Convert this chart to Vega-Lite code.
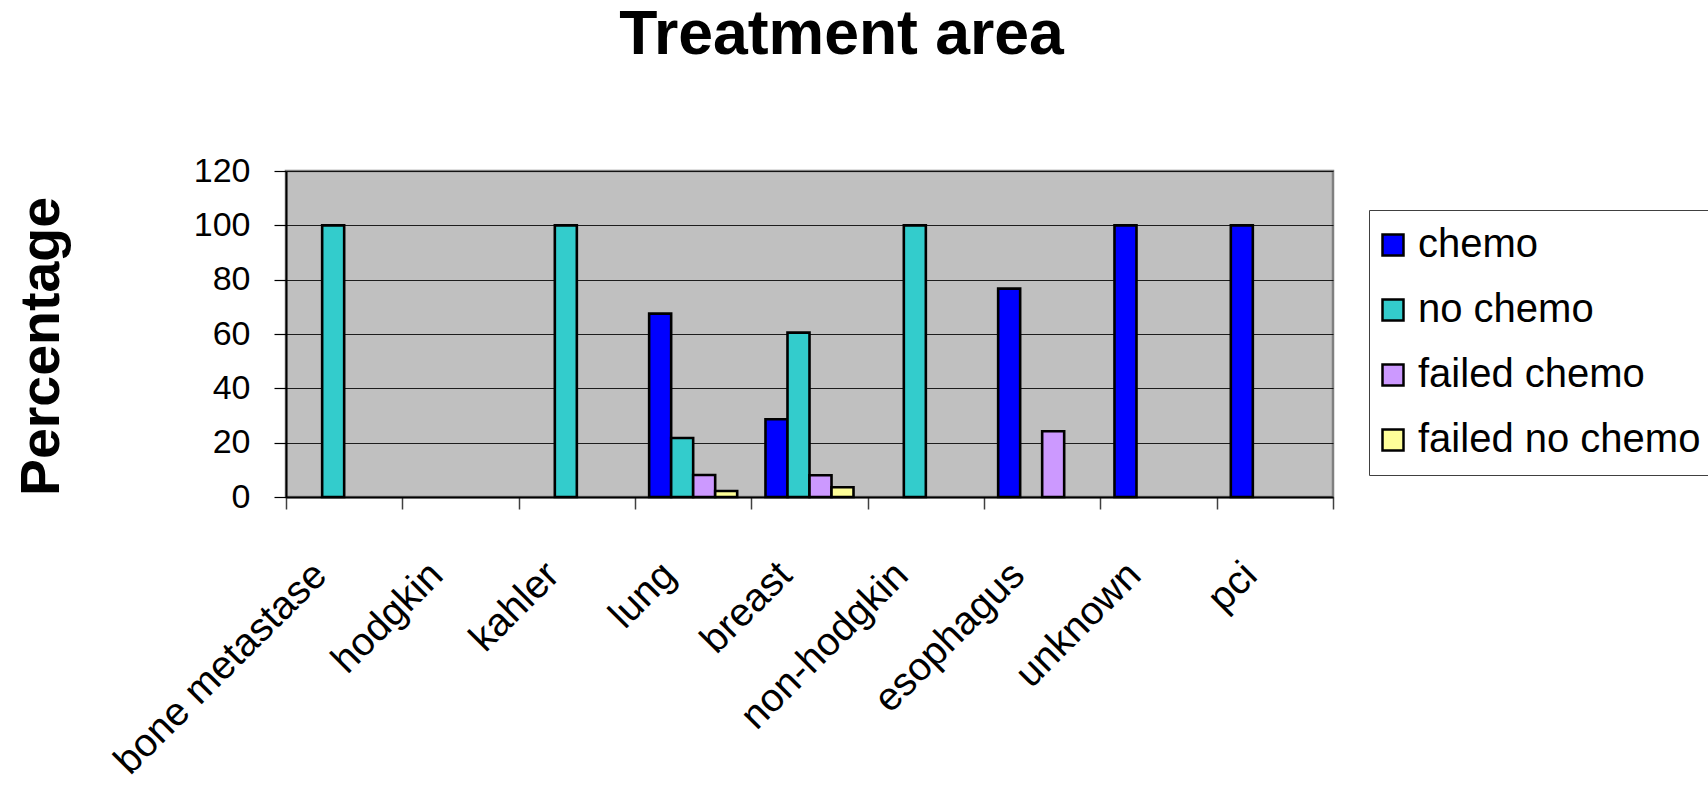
{
  "$schema": "https://vega.github.io/schema/vega-lite/v6.json",
  "autosize": {"type": "none"},
  "width": 1047,
  "height": 326,
  "padding": {"left": 286, "top": 171, "right": 375, "bottom": 288},
  "background": "white",
  "config": {
    "font": "Liberation Sans",
    "view": {"fill": "#C0C0C0", "stroke": "#808080", "strokeWidth": 2.5}
  },
  "title": {
    "text": "Treatment area",
    "font": "Liberation Sans",
    "fontSize": 62.5,
    "fontWeight": "bold",
    "color": "black",
    "frame": "group",
    "anchor": "middle",
    "baseline": "alphabetic",
    "dx": 32,
    "offset": 38
  },
  "data": {
    "values": [
      {"area": "bone metastase", "group": "no chemo", "pct": 100},
      {"area": "kahler", "group": "no chemo", "pct": 100},
      {"area": "lung", "group": "chemo", "pct": 67.5},
      {"area": "lung", "group": "no chemo", "pct": 21.7},
      {"area": "lung", "group": "failed chemo", "pct": 8.1},
      {"area": "lung", "group": "failed no chemo", "pct": 2.2},
      {"area": "breast", "group": "chemo", "pct": 28.6},
      {"area": "breast", "group": "no chemo", "pct": 60.5},
      {"area": "breast", "group": "failed chemo", "pct": 8.0},
      {"area": "breast", "group": "failed no chemo", "pct": 3.6},
      {"area": "non-hodgkin", "group": "no chemo", "pct": 100},
      {"area": "esophagus", "group": "chemo", "pct": 76.7},
      {"area": "esophagus", "group": "failed chemo", "pct": 24.2},
      {"area": "unknown", "group": "chemo", "pct": 100},
      {"area": "pci", "group": "chemo", "pct": 100}
    ]
  },
  "mark": {"type": "bar", "stroke": "black", "strokeWidth": 2.6},
  "encoding": {
    "x": {
      "field": "area",
      "type": "nominal",
      "sort": null,
      "scale": {
        "domain": ["bone metastase", "hodgkin", "kahler", "lung", "breast", "non-hodgkin", "esophagus", "unknown", "pci"],
        "paddingInner": 0,
        "paddingOuter": 0
      },
      "axis": {
        "title": null,
        "labelAngle": -45,
        "labelAlign": "right",
        "labelBaseline": "alphabetic",
        "labelFontSize": 39.5,
        "labelColor": "black",
        "labelPadding": 68,
        "labelOffset": -16,
        "labelLimit": 500,
        "labelOverlap": false,
        "tickBand": "extent",
        "tickSize": 12,
        "tickColor": "#404040",
        "tickWidth": 1.5,
        "domainColor": "black",
        "domainWidth": 2,
        "grid": false
      }
    },
    "xOffset": {
      "field": "group",
      "type": "nominal",
      "scale": {"domain": ["chemo", "no chemo", "failed chemo", "failed no chemo"], "paddingInner": 0, "paddingOuter": 0.643}
    },
    "y": {
      "field": "pct",
      "type": "quantitative",
      "scale": {"domain": [0, 120]},
      "axis": {
        "title": "Percentage",
        "titleFontSize": 55.5,
        "titleFontWeight": "bold",
        "titleColor": "black",
        "titleAngle": -90,
        "titleX": -228,
        "titleY": 175,
        "titleAlign": "center",
        "titleBaseline": "alphabetic",
        "values": [0, 20, 40, 60, 80, 100, 120],
        "labelFontSize": 34,
        "labelColor": "black",
        "labelPadding": 24,
        "tickSize": 12,
        "tickColor": "black",
        "tickWidth": 1.2,
        "domainColor": "black",
        "domainWidth": 2,
        "grid": true,
        "gridColor": "black",
        "gridWidth": 1.2,
        "gridOpacity": 0.85
      }
    },
    "color": {
      "field": "group",
      "type": "nominal",
      "scale": {
        "domain": ["chemo", "no chemo", "failed chemo", "failed no chemo"],
        "range": ["#0000FF", "#33CCCC", "#CC99FF", "#FFFF99"]
      },
      "legend": {
        "title": null,
        "orient": "none",
        "legendX": 1083,
        "legendY": 39,
        "direction": "vertical",
        "fillColor": "white",
        "strokeColor": "#404040",
        "padding": 15,
        "symbolType": "square",
        "symbolSize": 441,
        "symbolStrokeColor": "black",
        "symbolStrokeWidth": 2.5,
        "symbolOpacity": 1,
        "symbolOffset": -11,
        "labelFontSize": 40,
        "labelColor": "black",
        "labelOffset": 5,
        "rowPadding": 25,
        "labelLimit": 400
      }
    }
  }
}
